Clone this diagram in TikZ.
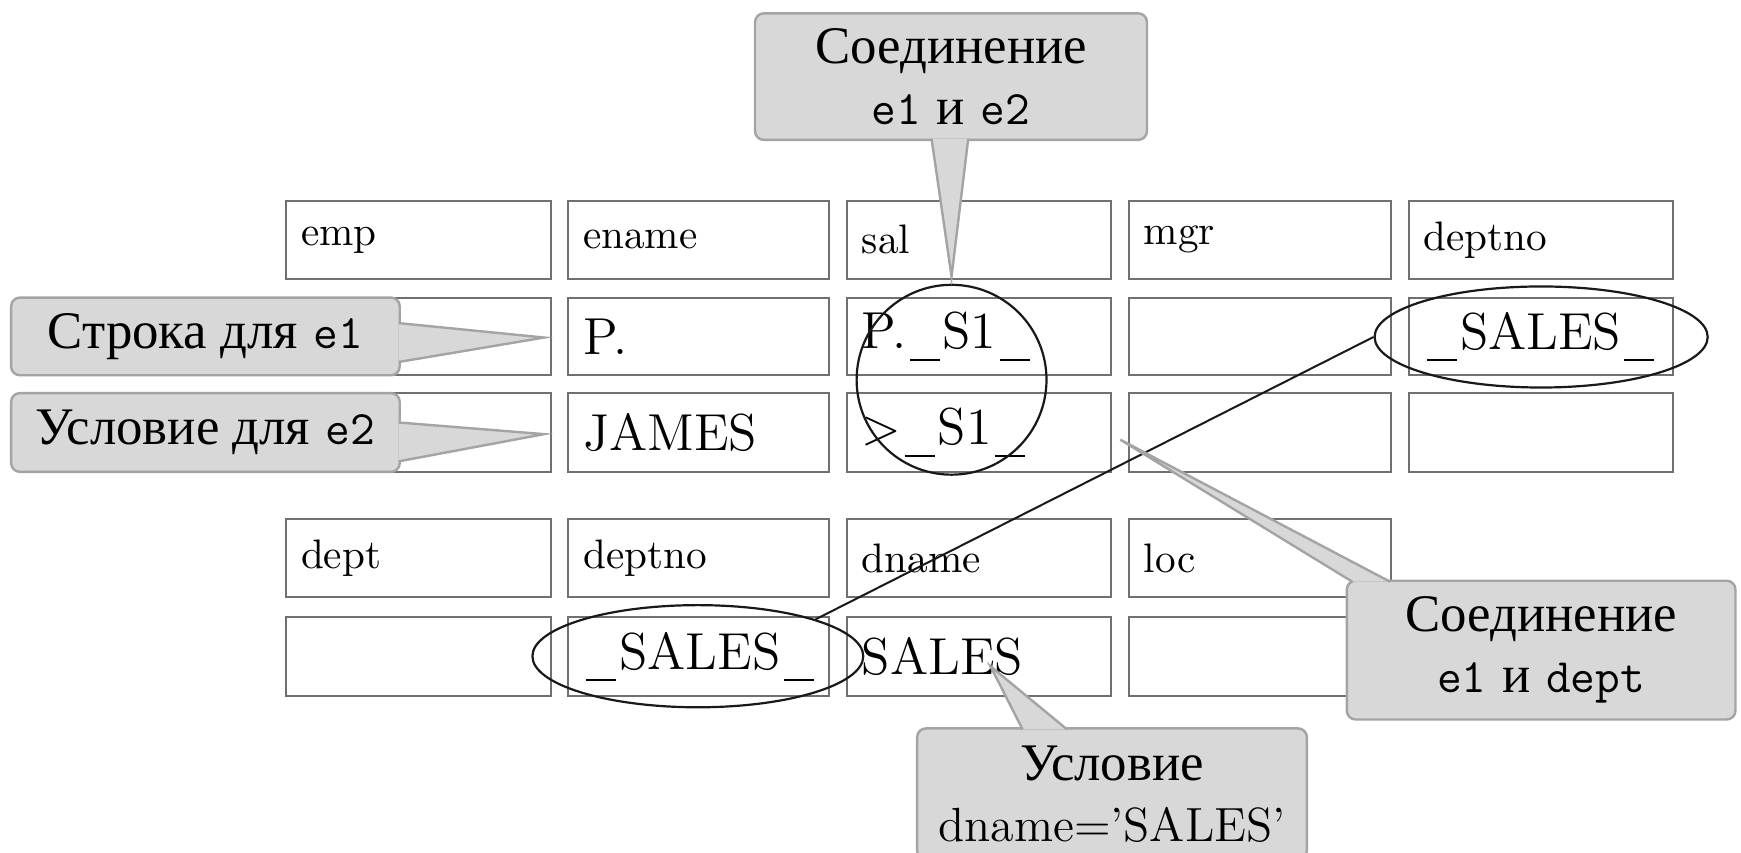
\documentclass[tikz,border=0pt]{standalone}
\usepackage{fontspec}
\newfontfamily\cyr{Liberation Serif}[Scale=1.1]
\usetikzlibrary{shapes.geometric,calc}
\newcommand\U{0.27758pt}
\newcommand\us{\kern0.8pt\rule[-3pt]{7.5pt}{0.5pt}\kern0.8pt}
\definecolor{cellgray}{HTML}{707070}
\definecolor{callfill}{HTML}{D8D8D8}
\definecolor{callline}{HTML}{A4A4A4}
\newcommand\cellbox[5]{\node[cell, minimum width={(#4-#2)*\U}, minimum height={(#5-#3)*\U}] (#1) at ({(#2+#4)/2},{(#3+#5)/2}) {};}
\newcommand\pointer[3]{\fill[callfill] (#1) -- (#2) -- (#3) -- cycle;
  \draw[callline, line width=0.6pt] (#1) -- (#2) -- (#3);}
\begin{document}
\begin{tikzpicture}[x=0.27758pt, y=-0.27758pt,
  cell/.style={draw=cellgray, line width=0.5pt, inner sep=0pt},
  lbl/.style={inner xsep=3.7pt, inner ysep=0pt, anchor=west, font=\fontsize{10.3}{12.4}\selectfont},
  val/.style={lbl, font=\fontsize{13}{15.6}\selectfont},
  callbox/.style={fill=callfill, draw=callline, line width=0.6pt, rounded corners=2.2pt, inner sep=0pt, align=center, font=\large},
  ring/.style={draw=black!90, line width=0.55pt, inner sep=0pt}]
\useasboundingbox[fill=white] (0,0) rectangle (1568,768);

% ---- emp table ----
\cellbox{r1c1}{258}{181}{496}{251}
\cellbox{r1c2}{512}{181}{747}{251}
\cellbox{r1c3}{763}{181}{1001}{251}
\cellbox{r1c4}{1017}{181}{1253}{251}
\cellbox{r1c5}{1269}{181}{1507}{251}
\cellbox{r2c1}{258}{268}{496}{338}
\cellbox{r2c2}{512}{268}{747}{338}
\cellbox{r2c3}{763}{268}{1001}{338}
\cellbox{r2c4}{1017}{268}{1253}{338}
\cellbox{r2c5}{1269}{268}{1507}{338}
\cellbox{r3c1}{258}{354}{496}{425}
\cellbox{r3c2}{512}{354}{747}{425}
\cellbox{r3c3}{763}{354}{1001}{425}
\cellbox{r3c4}{1017}{354}{1253}{425}
\cellbox{r3c5}{1269}{354}{1507}{425}
% ---- dept table ----
\cellbox{r4c1}{258}{467}{496}{538}
\cellbox{r4c2}{512}{467}{747}{538}
\cellbox{r4c3}{763}{467}{1001}{538}
\cellbox{r4c4}{1017}{467}{1253}{538}
\cellbox{r5c1}{258}{556}{496}{627}
\cellbox{r5c2}{512}{556}{747}{627}
\cellbox{r5c3}{763}{556}{1001}{627}
\cellbox{r5c4}{1017}{556}{1253}{627}

% ---- texts ----
\node[lbl] (t11) at (r1c1.west) {emp};
\node[lbl] (t12) at (r1c2.west) {ename};
\node[lbl] (t13) at (r1c3.west) {sal};
\node[lbl] (t14) at (r1c4.west) {mgr};
\node[lbl] (t15) at (r1c5.west) {deptno};
\node[val] (t22) at (r2c2.west) {P.};
\node[val] (t23) at (r2c3.west) {P.\us S1\us};
\node[val] (t25) at (r2c5.west) {\us SALES\us};
\node[val] (t32) at (r3c2.west) {JAMES};
\node[val] (t33) at (r3c3.west) {>\us S1\us};
\node[lbl] (t41) at (r4c1.west) {dept};
\node[lbl] (t42) at (r4c2.west) {deptno};
\node[lbl] (t43) at (r4c3.west) {dname};
\node[lbl] (t44) at (r4c4.west) {loc};
\node[val] (t52) at (r5c2.west) {\us SALES\us};
\node[val] (t53) at (r5c3.west) {SALES};

% ---- circle, ellipses, join line ----
\node[ring, circle, minimum size=171*\U] (circ) at (857,342) {};
\node[ring, ellipse, minimum width=300*\U, minimum height=91*\U] (ell1) at (1388,303.5) {};
\node[ring, ellipse, minimum width=298*\U, minimum height=92*\U] (ell2) at (628.5,591) {};
\draw[black!90, line width=0.5pt] (ell2.north east) -- (ell1.west);

% ---- callouts ----
\coordinate (tipA) at (857,249);
\coordinate (tipB) at (490,304);
\coordinate (tipC) at (490,391);
\coordinate (tipD) at (1009,396);
\coordinate (tipE) at (892,600);

\node[callbox, minimum width=353*\U, minimum height=114*\U] (cA) at (856.5,69)
  {{\cyr Соединение}\\[1.3pt]\texttt{e1} {\cyr и} \texttt{e2}};
\pointer{$(cA.south)+(-17.5,-2)$}{tipA}{$(cA.south)+(15.5,-2)$}

\node[callbox, minimum width=350*\U, minimum height=70*\U] (cB) at (185,303)
  {{\cyr Строка для} \texttt{e1}};
\pointer{$(cB.east)+(-2,-12)$}{tipB}{$(cB.east)+(-2,23)$}

\node[callbox, minimum width=350*\U, minimum height=71*\U] (cC) at (185,389.5)
  {{\cyr Условие для} \texttt{e2}};
\pointer{$(cC.east)+(-2,-9)$}{tipC}{$(cC.east)+(-2,26)$}

\node[callbox, minimum width=350*\U, minimum height=125*\U] (cD) at (1388,585.5)
  {{\cyr Соединение}\\[1.3pt]\texttt{e1} {\cyr и} \texttt{dept}};
\pointer{$(cD.north west)+(6,2)$}{tipD}{$(cD.north west)+(40,2)$}

\node[callbox, minimum width=351*\U, minimum height=118*\U] (cE) at (1001.5,715)
  {{\cyr Условие}\\[1.3pt]dname=’SALES’};
\pointer{$(cE.north)+(-80.5,2)$}{tipE}{$(cE.north)+(-40.5,2)$}
\end{tikzpicture}
\end{document}
